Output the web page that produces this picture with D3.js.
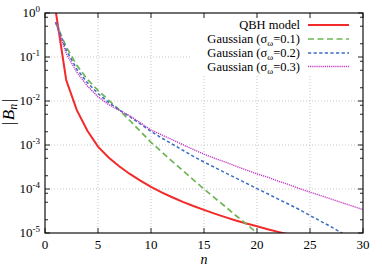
<!DOCTYPE html>
<html>
<head>
<meta charset="utf-8">
<script src="https://cdn.jsdelivr.net/npm/d3@7"></script>
<style>
	body { margin: 0; background: #fff; }
	text { font-family: "Liberation Serif", "DejaVu Serif", serif; fill: #000; }
</style>
</head>
<body>
<svg id="chart" width="382" height="267"></svg>
<script>
// values, one per integer n starting at n = 1
var qbh = [1.15, 0.030, 0.0062, 0.0021, 0.00092, 0.00052, 0.00033, 0.00022, 0.000155, 0.000112,
	8.4e-5, 6.5e-5, 5.1e-5, 4.1e-5, 3.35e-5, 2.75e-5, 2.3e-5, 1.93e-5, 1.65e-5, 1.42e-5,
	1.22e-5, 1.06e-5, 9.3e-6];
var gauss01 = [0.62, 0.17, 0.065, 0.031, 0.0174, 0.0105, 0.0063, 0.0036, 0.00204, 0.00115,
	7.0e-4, 4.27e-4, 2.63e-4, 1.62e-4, 1.0e-4, 6.3e-5, 4.0e-5, 2.5e-5, 1.6e-5, 1.0e-5, 6.3e-6];
var gauss02 = [0.62, 0.145, 0.053, 0.026, 0.0148, 0.0093, 0.0063, 0.0044, 0.0030, 0.00204,
	1.45e-3, 1.05e-3, 7.6e-4, 5.5e-4, 4.1e-4, 3.1e-4, 2.34e-4, 1.78e-4, 1.35e-4, 1.02e-4,
	7.8e-5, 5.9e-5, 4.5e-5, 3.4e-5, 2.5e-5, 1.86e-5, 1.38e-5, 1.0e-5, 7.4e-6];
var gauss03 = [0.62, 0.12, 0.045, 0.022, 0.0125, 0.0083, 0.0061, 0.0046, 0.0032, 0.0022,
	1.7e-3, 1.32e-3, 1.02e-3, 7.9e-4, 6.2e-4, 5.0e-4, 4.1e-4, 3.3e-4, 2.7e-4, 2.2e-4,
	1.86e-4, 1.51e-4, 1.26e-4, 1.02e-4, 8.5e-5, 7.1e-5, 5.9e-5, 4.9e-5, 4.1e-5, 3.4e-5];
var seriesNames = ["QBH model", "Gaussian (σ", "Gaussian (σ", "Gaussian (σ"];
var sigmaLabels = ["", "0.1", "0.2", "0.3"];
var xTicks = [0, 5, 10, 15, 20, 25, 30];
var yExponents = [0, -1, -2, -3, -4, -5];

var svg = d3.select("#chart");
var pLeft = 45, pRight = 363, pTop = 13, pBottom = 233;

var x = d3.scaleLinear().domain([0, 30]).range([pLeft, pRight]);
var y = d3.scaleLog().domain([1e-5, 1]).range([pBottom, pTop]);

var series = [
	{ values: qbh, color: "#f22a2a", width: 2, dash: null },
	{ values: gauss01, color: "#6db554", width: 1.7, dash: "6,3.5" },
	{ values: gauss02, color: "#3a6cc4", width: 1.5, dash: "3.2,2.4" },
	{ values: gauss03, color: "#c23cc2", width: 1.4, dash: "1.2,0.9" }
];

svg.append("defs").append("clipPath").attr("id", "plotclip")
	.append("rect").attr("x", pLeft).attr("y", pTop)
	.attr("width", pRight - pLeft).attr("height", pBottom - pTop);

// grid
var grid = svg.append("g").attr("stroke", "#b8b8b8").attr("stroke-width", 0.8).attr("stroke-dasharray", "1,2");
grid.selectAll("line.gx").data(xTicks.slice(1, -1)).enter().append("line")
	.attr("x1", function(d){ return x(d); }).attr("x2", function(d){ return x(d); })
	.attr("y1", pTop).attr("y2", pBottom);
grid.selectAll("line.gy").data(yExponents.slice(1, -1)).enter().append("line")
	.attr("y1", function(d){ return y(Math.pow(10, d)); }).attr("y2", function(d){ return y(Math.pow(10, d)); })
	.attr("x1", pLeft).attr("x2", pRight);

// curves
var line = d3.line()
	.x(function(d, i){ return x(i + 1); })
	.y(function(d){ return y(d); });
var curves = svg.append("g").attr("clip-path", "url(#plotclip)");
series.forEach(function(s){
	curves.append("path")
		.attr("d", line(s.values))
		.attr("fill", "none")
		.attr("stroke", s.color)
		.attr("stroke-width", s.width)
		.attr("stroke-dasharray", s.dash);
});

// legend (opaque box)
var legendRows = [25, 39, 53, 66.5];
svg.append("rect").attr("x", 192).attr("y", 17).attr("width", pRight - 193).attr("height", 57).attr("fill", "#fff");
var legend = svg.append("g");
series.forEach(function(s, i){
	var t = legend.append("text")
		.attr("x", 300).attr("y", legendRows[i] + 4)
		.attr("text-anchor", "end")
		.attr("font-size", 12.5);
	t.append("tspan").text(seriesNames[i]);
	if (i > 0) {
		t.append("tspan").attr("font-size", 9).attr("dy", 3).text("ω");
		t.append("tspan").attr("dy", -3).text("=" + sigmaLabels[i] + ")");
	}
	legend.append("line")
		.attr("x1", 308).attr("x2", 349)
		.attr("y1", legendRows[i]).attr("y2", legendRows[i])
		.attr("stroke", s.color).attr("stroke-width", s.width)
		.attr("stroke-dasharray", s.dash);
});

// ticks
var ticks = svg.append("g").attr("stroke", "#222").attr("stroke-width", 1);
xTicks.forEach(function(t){
	ticks.append("line").attr("x1", x(t)).attr("x2", x(t)).attr("y1", pBottom).attr("y2", pBottom - 5);
	ticks.append("line").attr("x1", x(t)).attr("x2", x(t)).attr("y1", pTop).attr("y2", pTop + 5);
});
yExponents.forEach(function(e){
	var yy = y(Math.pow(10, e));
	ticks.append("line").attr("x1", pLeft).attr("x2", pLeft + 5).attr("y1", yy).attr("y2", yy);
	ticks.append("line").attr("x1", pRight).attr("x2", pRight - 5).attr("y1", yy).attr("y2", yy);
	if (e > -5) {
		[2, 5, 8].forEach(function(k){
			var ym = y(k * Math.pow(10, e - 1));
			ticks.append("line").attr("x1", pLeft).attr("x2", pLeft + 3).attr("y1", ym).attr("y2", ym);
			ticks.append("line").attr("x1", pRight).attr("x2", pRight - 3).attr("y1", ym).attr("y2", ym);
		});
	}
});

// frame
svg.append("rect").attr("x", pLeft).attr("y", pTop)
	.attr("width", pRight - pLeft).attr("height", pBottom - pTop)
	.attr("fill", "none").attr("stroke", "#111").attr("stroke-width", 1.2);

// tick labels
svg.selectAll("text.xl").data(xTicks).enter().append("text")
	.attr("class", "xl")
	.attr("x", function(d){ return x(d); }).attr("y", 249)
	.attr("text-anchor", "middle").attr("font-size", 13)
	.text(function(d){ return d; });
yExponents.forEach(function(e){
	var t = svg.append("text")
		.attr("x", 40).attr("y", y(Math.pow(10, e)) + 4)
		.attr("text-anchor", "end").attr("font-size", 13);
	t.append("tspan").text("10");
	t.append("tspan").attr("font-size", 9).attr("dy", -5).text(e === 0 ? "0" : "-" + (-e));
});

// axis titles
svg.append("text").attr("x", 204).attr("y", 264)
	.attr("text-anchor", "middle").attr("font-size", 14).attr("font-style", "italic").text("n");
var yl = svg.append("text")
	.attr("transform", "translate(14,112) rotate(-90)")
	.attr("text-anchor", "middle").attr("font-size", 17);
yl.append("tspan").text("|");
yl.append("tspan").attr("font-style", "italic").attr("dx", 1.5).text("B");
yl.append("tspan").attr("font-style", "italic").attr("font-size", 12).attr("dy", 3).text("n");
yl.append("tspan").attr("dy", -3).attr("dx", 1.5).text("|");
</script>
</body>
</html>
